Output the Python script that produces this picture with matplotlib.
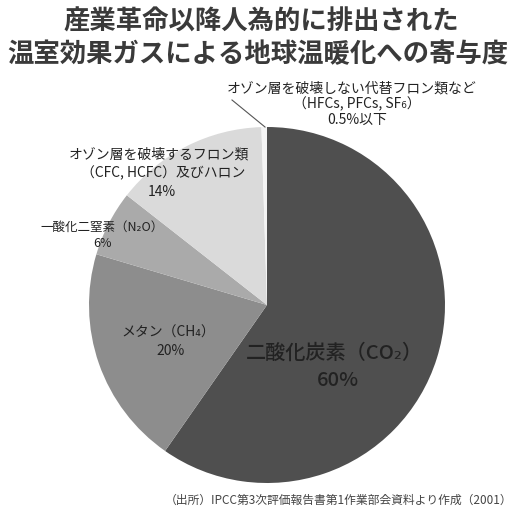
import matplotlib
matplotlib.use("Agg")
import matplotlib.pyplot as plt

plt.rcParams['font.family'] = ['Noto Sans CJK JP', 'DejaVu Sans']

# Contribution of each greenhouse gas (%)
gases = ["二酸化炭素（CO₂）", "メタン（CH₄）", "一酸化二窒素（N₂O）",
         "オゾン層を破壊するフロン類", "オゾン層を破壊しない代替フロン類など"]
gas_groups = ["", "", "", "（CFC, HCFC）及びハロン", "（HFCs, PFCs, SF₆）"]
shares = [60, 20, 6, 14, 0.5]
share_labels = ["60%", "20%", "6%", "14%", "0.5%以下"]
colors = ["#4f4f4f", "#8d8d8d", "#aaaaaa", "#dadada", "#f4f4f4"]

W = H = 515
fig = plt.figure(figsize=(W / 100, H / 100), dpi=100)
fig.patch.set_facecolor("white")

cx, cy, r = 267, 305, 178
ax = fig.add_axes([(cx - r) / W, (H - cy - r) / H, 2 * r / W, 2 * r / H])
ax.pie(shares, colors=colors, startangle=90, counterclock=False,
       radius=1.0, wedgeprops=dict(linewidth=0))
ax.set_xlim(-1, 1)
ax.set_ylim(-1, 1)
ax.set_aspect("equal")
ax.axis("off")


def put(x, y, s, size, color="#222222", **kw):
    fig.text(x / W, 1 - y / H, s, fontsize=size, ha="center", va="center",
             color=color, **kw)


# Title
put(261, 22, "産業革命以降人為的に排出された", 19, color="#3a3a3a", fontweight="bold")
put(258, 55, "温室効果ガスによる地球温暖化への寄与度", 19, color="#3a3a3a", fontweight="bold")

# Slice labels
put(352, 88, gases[4], 10)
put(357, 104, gas_groups[4], 10)
put(357, 120, share_labels[4], 10)

put(159, 155, gases[3], 10)
put(163, 173, gas_groups[3], 10)
put(162, 192, share_labels[3], 10)

put(102, 227, gases[2], 9)
put(102, 243, share_labels[2], 9)

put(168, 333, gases[1], 10)
put(171, 351, share_labels[1], 10)

put(334, 353, gases[0], 14.5, fontweight="medium")
put(338, 380, share_labels[0], 14.5, fontweight="medium")

# Leader line to the thin slice at the top
fig.add_artist(plt.Line2D([232 / W, 265 / W], [1 - 100 / H, 1 - 127 / H],
                          color="#555555", linewidth=0.8))

# Source note
fig.text(512 / W, 1 - 500 / H,
         "（出所）IPCC第3次評価報告書第1作業部会資料より作成（2001）",
         fontsize=8.5, ha="right", va="center", color="#444444")

fig.savefig("out.png", dpi=100, facecolor="white")
